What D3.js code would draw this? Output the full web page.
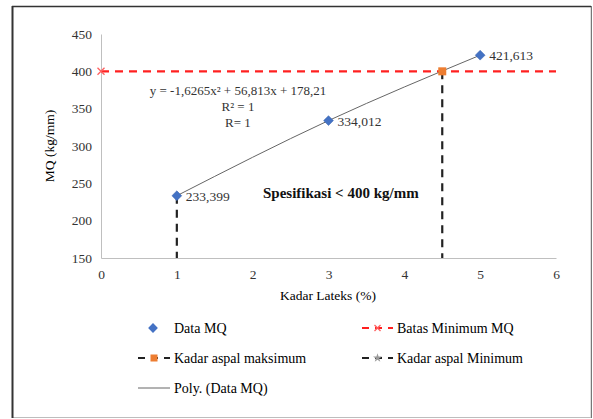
<!DOCTYPE html>
<html><head><meta charset="utf-8">
<script src="https://cdn.jsdelivr.net/npm/d3@7"></script>
</head><body style="margin:0;background:#fff">
<script>
const xValues = [1, 3, 5];
const mqValues = [233.399, 334.012, 421.613];
const mqLabels = ["233,399", "334,012", "421,613"];
const batasMin = [[0, 400], [6, 400]];
const kadarMaks = [[4.5, 400], [4.5, 150]];
const kadarMin = [[1, 233.399], [1, 150]];
const xTicks = [0, 1, 2, 3, 4, 5, 6];
const yTicks = [150, 200, 250, 300, 350, 400, 450];
const eqLines = ["y = -1,6265x\u00B2 + 56,813x + 178,21", "R\u00B2 = 1", "R= 1"];

const W = 593, H = 419;
const svg = d3.select("body").append("svg").attr("width", W).attr("height", H).style("display", "block");

// frame
svg.append("rect").attr("x", 12.5).attr("y", 6.5).attr("width", 578.5).attr("height", 411)
  .attr("fill", "#fff").attr("stroke", "#bdbdbd").attr("stroke-width", 1);
svg.append("line").attr("x1", 12.5).attr("x2", 12.5).attr("y1", 6).attr("y2", 418).attr("stroke", "#333").attr("stroke-width", 2);
svg.append("line").attr("x1", 12).attr("x2", 591).attr("y1", 6.5).attr("y2", 6.5).attr("stroke", "#333").attr("stroke-width", 1.5);
svg.append("line").attr("x1", 591.5).attr("x2", 591.5).attr("y1", 6).attr("y2", 418).attr("stroke", "#777").attr("stroke-width", 1);

const x = d3.scaleLinear().domain([0, 6]).range([101, 556]);
const y = d3.scaleLinear().domain([150, 450]).range([258, 34]);

// axes
const gx = svg.append("g").attr("transform", `translate(0,${y(150)})`)
  .call(d3.axisBottom(x).tickValues(xTicks).tickSize(0).tickPadding(11).tickFormat(d3.format("d")));
const gy = svg.append("g").attr("transform", `translate(${x(0)},0)`)
  .call(d3.axisLeft(y).tickValues(yTicks).tickSize(0).tickPadding(9).tickFormat(d3.format("d")));
[gx, gy].forEach(g => {
  g.attr("font-family", null);
  g.select(".domain").attr("stroke", "#bfbfbf").attr("stroke-width", 1);
  g.selectAll("text").attr("font-size", 13.5).attr("fill", "#333");
});

// titles
svg.append("text").attr("x", 328).attr("y", 300).attr("text-anchor", "middle").attr("font-size", 13.5).text("Kadar Lateks (%)");
svg.append("text").attr("transform", "translate(54,146) rotate(-90)").attr("text-anchor", "middle").attr("font-size", 13.5).text("MQ (kg/mm)");

const line = d3.line().x(d => x(d[0])).y(d => y(d[1]));

// red dashed batas line
svg.append("path").datum(batasMin).attr("d", line).attr("fill", "none")
  .attr("stroke", "#ff2020").attr("stroke-width", 2.2).attr("stroke-dasharray", "8,6");
function xMark(g, cx, cy, col, s) {
  g.append("path").attr("d", `M${cx - s},${cy - s}L${cx + s},${cy + s}M${cx - s},${cy + s}L${cx + s},${cy - s}`)
    .attr("stroke", col).attr("stroke-width", 1.3).attr("fill", "none");
}
xMark(svg, x(batasMin[0][0]), y(batasMin[0][1]), "#ff6060", 3.5);

// black dashed verticals
[kadarMaks, kadarMin].forEach(dd => {
  svg.append("path").datum(dd).attr("d", line).attr("fill", "none")
    .attr("stroke", "#222").attr("stroke-width", 2.2).attr("stroke-dasharray", "8,6");
});

// poly trendline through data
const polyPts = xValues.map((v, i) => [v, mqValues[i]]);
svg.append("path").datum(polyPts).attr("d", d3.line().x(d => x(d[0])).y(d => y(d[1])).curve(d3.curveNatural))
  .attr("fill", "none").attr("stroke", "#666").attr("stroke-width", 1);

// orange marker
svg.append("rect").attr("x", x(kadarMaks[0][0]) - 4).attr("y", y(kadarMaks[0][1]) - 4).attr("width", 8).attr("height", 8).attr("fill", "#ed7d31");

// diamonds
svg.selectAll(".pt").data(polyPts).enter().append("path")
  .attr("d", d3.symbol().type(d3.symbolSquare).size(48))
  .attr("transform", d => `translate(${x(d[0])},${y(d[1])}) rotate(45)`)
  .attr("fill", "#4472c4").attr("stroke", "#3a63ad").attr("stroke-width", 0.5);

svg.selectAll(".lbl").data(polyPts).enter().append("text")
  .attr("x", d => x(d[0]) + 9).attr("y", d => y(d[1]) + 5).attr("font-size", 13.5).attr("fill", "#333")
  .text((d, i) => mqLabels[i]);

// equation
eqLines.forEach((t, i) => {
  svg.append("text").attr("x", 238).attr("y", 95 + i * 16).attr("text-anchor", "middle").attr("font-size", 13).attr("fill", "#333").text(t);
});

svg.append("text").attr("x", 263).attr("y", 198).attr("font-size", 15).attr("font-weight", "bold").attr("fill", "#111").text("Spesifikasi < 400 kg/mm");

// legend
const lg = svg.append("g");
const fs = 14;
lg.append("path").attr("d", d3.symbol().type(d3.symbolSquare).size(48)).attr("transform", "translate(153,328) rotate(45)").attr("fill", "#4472c4");
lg.append("text").attr("x", 174).attr("y", 333).attr("font-size", fs).text("Data MQ");
lg.append("line").attr("x1", 362).attr("x2", 393).attr("y1", 328).attr("y2", 328).attr("stroke", "#ff2020").attr("stroke-width", 2.2).attr("stroke-dasharray", "7,6");
xMark(lg, 377.5, 328, "#ff6060", 3);
lg.append("text").attr("x", 397).attr("y", 333).attr("font-size", fs).text("Batas Minimum MQ");
lg.append("line").attr("x1", 138).attr("x2", 170).attr("y1", 358).attr("y2", 358).attr("stroke", "#222").attr("stroke-width", 2.2).attr("stroke-dasharray", "7,6");
lg.append("rect").attr("x", 150.5).attr("y", 354.5).attr("width", 7).attr("height", 7).attr("fill", "#ed7d31");
lg.append("text").attr("x", 174).attr("y", 363).attr("font-size", fs).text("Kadar aspal maksimum");
lg.append("line").attr("x1", 362).attr("x2", 393).attr("y1", 358).attr("y2", 358).attr("stroke", "#222").attr("stroke-width", 2.2).attr("stroke-dasharray", "7,6");
lg.append("path").attr("d", d3.symbol().type(d3.symbolStar).size(25)).attr("transform", "translate(377.5,358)").attr("fill", "#999");
lg.append("text").attr("x", 397).attr("y", 363).attr("font-size", fs).text("Kadar aspal Minimum");
lg.append("line").attr("x1", 138).attr("x2", 170).attr("y1", 388).attr("y2", 388).attr("stroke", "#666").attr("stroke-width", 1);
lg.append("text").attr("x", 174).attr("y", 393).attr("font-size", fs).text("Poly. (Data MQ)");

svg.selectAll("text").attr("font-family", "Liberation Serif").style("font-family", "Liberation Serif");
</script>
</body></html>
